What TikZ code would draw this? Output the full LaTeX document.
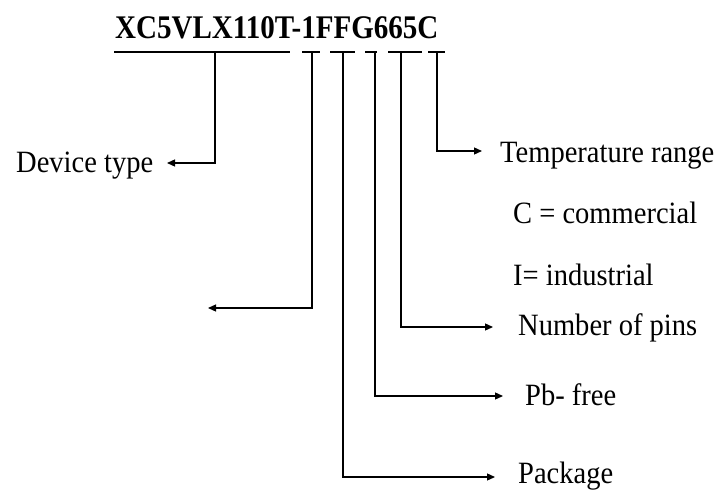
\documentclass[tikz,border=0pt]{standalone}
\usepackage{fontspec}
\setmainfont[FakeStretch=0.92]{Liberation Serif}
\newfontfamily\titlefont[FakeStretch=0.88]{Liberation Serif}
\usetikzlibrary{arrows.meta}
\begin{document}
\begin{tikzpicture}[x=1pt,y=-1pt,
  lbl/.style={inner sep=0pt,anchor=base west,font=\fontsize{31}{35}\selectfont},
  ttl/.style={inner sep=0pt,anchor=base west,font=\titlefont\fontsize{33}{38}\selectfont\bfseries},
  seg/.style={line width=1.3pt},
  arr/.style={line width=1.3pt,-{Triangle[length=8pt,width=7pt]}}]
\useasboundingbox (0,0) rectangle (721,491);
% title
\node[ttl] (title) at (115,38) {XC5VLX110T-1FFG665C};
% underline segments
\draw[seg] (114,52) -- (290,52);
\draw[seg] (302,52) -- (320,52);
\draw[seg] (330,52) -- (355,52);
\draw[seg] (365,52) -- (377,52);
\draw[seg] (388,52) -- (422,52);
\draw[seg] (428,52) -- (445,52);
\coordinate (s1) at (215,52);
\coordinate (s2) at (312,52);
\coordinate (s3) at (343,52);
\coordinate (s4) at (375,52);
\coordinate (s5) at (401,52);
\coordinate (s6) at (437,52);
% arrow tips
\coordinate (t1) at (167,163);
\coordinate (t2) at (208,308);
\coordinate (t3) at (495,477);
\coordinate (t4) at (503,396);
\coordinate (t5) at (493,327);
\coordinate (t6) at (482,151);
% labels
\node[lbl] (dev) at (16,172) {Device type};
\node[lbl] (temp) at (500,162) {Temperature range};
\node[lbl] (comm) at (513,223) {C = commercial};
\node[lbl] (ind) at (513,285) {I= industrial};
\node[lbl] (pins) at (518,335) {Number of pins};
\node[lbl] (pb) at (525,405) {Pb- free};
\node[lbl] (pkg) at (518,483) {Package};
% connectors
\draw[arr] (s1) |- (t1);
\draw[arr] (s2) |- (t2);
\draw[arr] (s3) |- (t3);
\draw[arr] (s4) |- (t4);
\draw[arr] (s5) |- (t5);
\draw[arr] (s6) |- (t6);
\end{tikzpicture}
\end{document}
